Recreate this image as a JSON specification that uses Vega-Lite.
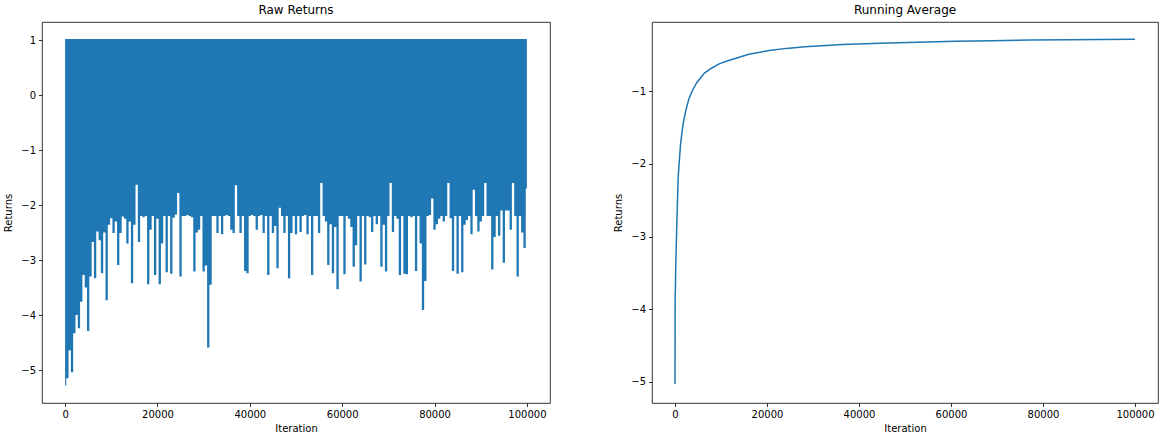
{
  "$schema": "https://vega.github.io/schema/vega-lite/v6.json",
  "autosize": {"type": "pad"},
  "padding": {"left": 3, "top": 3, "right": 5, "bottom": 5},
  "background": "white",
  "spacing": 102,
  "bounds": "flush",
  "config": {
    "view": {"stroke": "#000000", "strokeWidth": 0.8},
    "axis": {
      "domain": false, "grid": false,
      "labelFont": "DejaVu Sans", "labelFontSize": 10, "labelColor": "#000000",
      "titleFont": "DejaVu Sans", "titleFontSize": 10, "titleFontWeight": "normal", "titleColor": "#000000",
      "tickColor": "#000000", "tickSize": 3.5, "tickWidth": 0.8, "labelPadding": 3
    },
    "axisX": {"titlePadding": 4},
    "axisY": {"titlePadding": 7},
    "title": {"font": "DejaVu Sans", "fontSize": 12, "fontWeight": "normal", "color": "#000000", "offset": 5}
  },
  "datasets": {
    "raw": [
      {"iteration":0,"min_return":-5.28},{"iteration":500,"min_return":-5.15},{"iteration":1000,"min_return":-4.64},{"iteration":1500,"min_return":-5.04},{"iteration":2000,"min_return":-4.33},
      {"iteration":2500,"min_return":-4.0},{"iteration":3000,"min_return":-4.24},{"iteration":3500,"min_return":-3.76},{"iteration":4000,"min_return":-3.27},{"iteration":4500,"min_return":-3.5},
      {"iteration":5000,"min_return":-4.29},{"iteration":5500,"min_return":-3.3},{"iteration":6000,"min_return":-2.67},{"iteration":6500,"min_return":-3.33},{"iteration":7000,"min_return":-2.48},
      {"iteration":7500,"min_return":-2.64},{"iteration":8000,"min_return":-3.24},{"iteration":8500,"min_return":-2.5},{"iteration":9000,"min_return":-3.73},{"iteration":9500,"min_return":-2.36},
      {"iteration":10000,"min_return":-2.24},{"iteration":10500,"min_return":-2.51},{"iteration":11000,"min_return":-2.3},{"iteration":11500,"min_return":-3.09},{"iteration":12000,"min_return":-2.51},
      {"iteration":12500,"min_return":-2.21},{"iteration":13000,"min_return":-2.25},{"iteration":13500,"min_return":-2.7},{"iteration":14000,"min_return":-2.3},{"iteration":14500,"min_return":-3.42},
      {"iteration":15000,"min_return":-2.36},{"iteration":15500,"min_return":-1.63},{"iteration":16000,"min_return":-2.67},{"iteration":16500,"min_return":-2.2},{"iteration":17000,"min_return":-2.22},
      {"iteration":17500,"min_return":-2.2},{"iteration":18000,"min_return":-3.44},{"iteration":18500,"min_return":-2.45},{"iteration":19000,"min_return":-2.2},{"iteration":19500,"min_return":-3.27},
      {"iteration":20000,"min_return":-2.25},{"iteration":20500,"min_return":-3.44},{"iteration":21000,"min_return":-2.7},{"iteration":21500,"min_return":-2.2},{"iteration":22000,"min_return":-3.22},
      {"iteration":22500,"min_return":-2.2},{"iteration":23000,"min_return":-3.25},{"iteration":23500,"min_return":-2.23},{"iteration":24000,"min_return":-2.17},{"iteration":24500,"min_return":-1.78},
      {"iteration":25000,"min_return":-3.3},{"iteration":25500,"min_return":-2.2},{"iteration":26000,"min_return":-2.2},{"iteration":26500,"min_return":-2.18},{"iteration":27000,"min_return":-2.2},
      {"iteration":27500,"min_return":-2.22},{"iteration":28000,"min_return":-3.21},{"iteration":28500,"min_return":-2.5},{"iteration":29000,"min_return":-2.45},{"iteration":29500,"min_return":-2.2},
      {"iteration":30000,"min_return":-3.21},{"iteration":30500,"min_return":-3.1},{"iteration":31000,"min_return":-4.59},{"iteration":31500,"min_return":-3.45},{"iteration":32000,"min_return":-2.2},
      {"iteration":32500,"min_return":-2.2},{"iteration":33000,"min_return":-2.51},{"iteration":33500,"min_return":-2.2},{"iteration":34000,"min_return":-2.53},{"iteration":34500,"min_return":-2.2},
      {"iteration":35000,"min_return":-2.18},{"iteration":35500,"min_return":-2.2},{"iteration":36000,"min_return":-2.45},{"iteration":36500,"min_return":-2.51},{"iteration":37000,"min_return":-1.64},
      {"iteration":37500,"min_return":-2.2},{"iteration":38000,"min_return":-2.51},{"iteration":38500,"min_return":-2.2},{"iteration":39000,"min_return":-3.2},{"iteration":39500,"min_return":-3.24},
      {"iteration":40000,"min_return":-2.2},{"iteration":40500,"min_return":-2.18},{"iteration":41000,"min_return":-2.2},{"iteration":41500,"min_return":-2.45},{"iteration":42000,"min_return":-2.2},
      {"iteration":42500,"min_return":-2.18},{"iteration":43000,"min_return":-2.51},{"iteration":43500,"min_return":-2.2},{"iteration":44000,"min_return":-3.27},{"iteration":44500,"min_return":-2.2},
      {"iteration":45000,"min_return":-2.51},{"iteration":45500,"min_return":-2.38},{"iteration":46000,"min_return":-3.15},{"iteration":46500,"min_return":-2.05},{"iteration":47000,"min_return":-2.2},
      {"iteration":47500,"min_return":-2.51},{"iteration":48000,"min_return":-2.2},{"iteration":48500,"min_return":-3.33},{"iteration":49000,"min_return":-2.51},{"iteration":49500,"min_return":-2.2},
      {"iteration":50000,"min_return":-2.53},{"iteration":50500,"min_return":-2.2},{"iteration":51000,"min_return":-2.49},{"iteration":51500,"min_return":-2.2},{"iteration":52000,"min_return":-2.18},
      {"iteration":52500,"min_return":-2.53},{"iteration":53000,"min_return":-2.2},{"iteration":53500,"min_return":-3.27},{"iteration":54000,"min_return":-2.2},{"iteration":54500,"min_return":-2.2},
      {"iteration":55000,"min_return":-2.51},{"iteration":55500,"min_return":-1.6},{"iteration":56000,"min_return":-2.2},{"iteration":56500,"min_return":-2.3},{"iteration":57000,"min_return":-3.09},
      {"iteration":57500,"min_return":-2.35},{"iteration":58000,"min_return":-3.24},{"iteration":58500,"min_return":-2.4},{"iteration":59000,"min_return":-3.53},{"iteration":59500,"min_return":-2.2},
      {"iteration":60000,"min_return":-2.2},{"iteration":60500,"min_return":-3.26},{"iteration":61000,"min_return":-2.2},{"iteration":61500,"min_return":-2.25},{"iteration":62000,"min_return":-2.4},
      {"iteration":62500,"min_return":-3.12},{"iteration":63000,"min_return":-2.73},{"iteration":63500,"min_return":-2.2},{"iteration":64000,"min_return":-3.39},{"iteration":64500,"min_return":-2.2},
      {"iteration":65000,"min_return":-3.08},{"iteration":65500,"min_return":-2.2},{"iteration":66000,"min_return":-2.22},{"iteration":66500,"min_return":-2.49},{"iteration":67000,"min_return":-2.2},
      {"iteration":67500,"min_return":-2.35},{"iteration":68000,"min_return":-2.2},{"iteration":68500,"min_return":-3.12},{"iteration":69000,"min_return":-2.36},{"iteration":69500,"min_return":-3.21},
      {"iteration":70000,"min_return":-2.2},{"iteration":70500,"min_return":-1.6},{"iteration":71000,"min_return":-2.49},{"iteration":71500,"min_return":-2.2},{"iteration":72000,"min_return":-2.25},
      {"iteration":72500,"min_return":-3.27},{"iteration":73000,"min_return":-2.2},{"iteration":73500,"min_return":-3.25},{"iteration":74000,"min_return":-3.26},{"iteration":74500,"min_return":-2.2},
      {"iteration":75000,"min_return":-2.22},{"iteration":75500,"min_return":-2.2},{"iteration":76000,"min_return":-3.2},{"iteration":76500,"min_return":-2.2},{"iteration":77000,"min_return":-2.7},
      {"iteration":77500,"min_return":-3.91},{"iteration":78000,"min_return":-3.38},{"iteration":78500,"min_return":-2.2},{"iteration":79000,"min_return":-2.18},{"iteration":79500,"min_return":-1.88},
      {"iteration":80000,"min_return":-2.45},{"iteration":80500,"min_return":-2.35},{"iteration":81000,"min_return":-2.25},{"iteration":81500,"min_return":-2.2},{"iteration":82000,"min_return":-2.3},
      {"iteration":82500,"min_return":-2.2},{"iteration":83000,"min_return":-1.6},{"iteration":83500,"min_return":-2.24},{"iteration":84000,"min_return":-3.2},{"iteration":84500,"min_return":-2.2},
      {"iteration":85000,"min_return":-3.25},{"iteration":85500,"min_return":-2.2},{"iteration":86000,"min_return":-3.22},{"iteration":86500,"min_return":-2.36},{"iteration":87000,"min_return":-2.27},
      {"iteration":87500,"min_return":-2.2},{"iteration":88000,"min_return":-2.53},{"iteration":88500,"min_return":-1.72},{"iteration":89000,"min_return":-2.2},{"iteration":89500,"min_return":-2.48},
      {"iteration":90000,"min_return":-2.3},{"iteration":90500,"min_return":-2.2},{"iteration":91000,"min_return":-1.6},{"iteration":91500,"min_return":-2.2},{"iteration":92000,"min_return":-2.2},
      {"iteration":92500,"min_return":-3.17},{"iteration":93000,"min_return":-2.58},{"iteration":93500,"min_return":-2.2},{"iteration":94000,"min_return":-2.56},{"iteration":94500,"min_return":-2.1},
      {"iteration":95000,"min_return":-3.05},{"iteration":95500,"min_return":-2.1},{"iteration":96000,"min_return":-2.1},{"iteration":96500,"min_return":-2.45},{"iteration":97000,"min_return":-1.6},
      {"iteration":97500,"min_return":-2.2},{"iteration":98000,"min_return":-3.3},{"iteration":98500,"min_return":-2.2},{"iteration":99000,"min_return":-2.5},{"iteration":99500,"min_return":-2.78},
      {"iteration":100000,"min_return":-1.7}
    ],
    "avg": [
      {"iteration":0,"avg":-5.03},{"iteration":10,"avg":-4.47},{"iteration":20,"avg":-4.18},{"iteration":40,"avg":-3.9},{"iteration":60,"avg":-3.77},
      {"iteration":80,"avg":-3.75},{"iteration":160,"avg":-3.41},{"iteration":400,"avg":-2.81},{"iteration":570,"avg":-2.45},{"iteration":700,"avg":-2.17},
      {"iteration":980,"avg":-1.92},{"iteration":1220,"avg":-1.72},{"iteration":1550,"avg":-1.55},{"iteration":1870,"avg":-1.41},{"iteration":2445,"avg":-1.24},
      {"iteration":3000,"avg":-1.11},{"iteration":3700,"avg":-1.0},{"iteration":4650,"avg":-0.89},{"iteration":6400,"avg":-0.75},{"iteration":8000,"avg":-0.68},
      {"iteration":9700,"avg":-0.62},{"iteration":11500,"avg":-0.58},{"iteration":16050,"avg":-0.49},{"iteration":20500,"avg":-0.44},{"iteration":24200,"avg":-0.41},
      {"iteration":28280,"avg":-0.388},{"iteration":36430,"avg":-0.358},{"iteration":44580,"avg":-0.338},{"iteration":52730,"avg":-0.324},{"iteration":60880,"avg":-0.313},
      {"iteration":69030,"avg":-0.304},{"iteration":77180,"avg":-0.296},{"iteration":85330,"avg":-0.291},{"iteration":100000,"avg":-0.286}
    ]
  },
  "hconcat": [
    {
      "width": 508, "height": 381,
      "title": "Raw Returns",
      "data": {"name": "raw"},
      "mark": {"type": "area", "color": "#1f77b4", "interpolate": "step", "opacity": 1},
      "encoding": {
        "x": {"field": "iteration", "type": "quantitative", "title": "Iteration",
              "scale": {"domain": [-5000, 105000], "nice": false, "zero": false},
              "axis": {"values": [0, 20000, 40000, 60000, 80000, 100000], "format": "d"}},
        "y": {"field": "min_return", "type": "quantitative", "title": "Returns",
              "scale": {"domain": [-5.6, 1.33], "nice": false, "zero": false},
              "axis": {"values": [-5, -4, -3, -2, -1, 0, 1], "format": "d"}},
        "y2": {"datum": 1.02}
      }
    },
    {
      "width": 506, "height": 381,
      "title": "Running Average",
      "data": {"name": "avg"},
      "mark": {"type": "line", "color": "#1f77b4", "strokeWidth": 1.5},
      "encoding": {
        "x": {"field": "iteration", "type": "quantitative", "title": "Iteration",
              "scale": {"domain": [-5000, 105000], "nice": false, "zero": false},
              "axis": {"values": [0, 20000, 40000, 60000, 80000, 100000], "format": "d"}},
        "y": {"field": "avg", "type": "quantitative", "title": "Returns",
              "scale": {"domain": [-5.29, -0.047], "nice": false, "zero": false},
              "axis": {"values": [-5, -4, -3, -2, -1], "format": "d"}}
      }
    }
  ]
}
